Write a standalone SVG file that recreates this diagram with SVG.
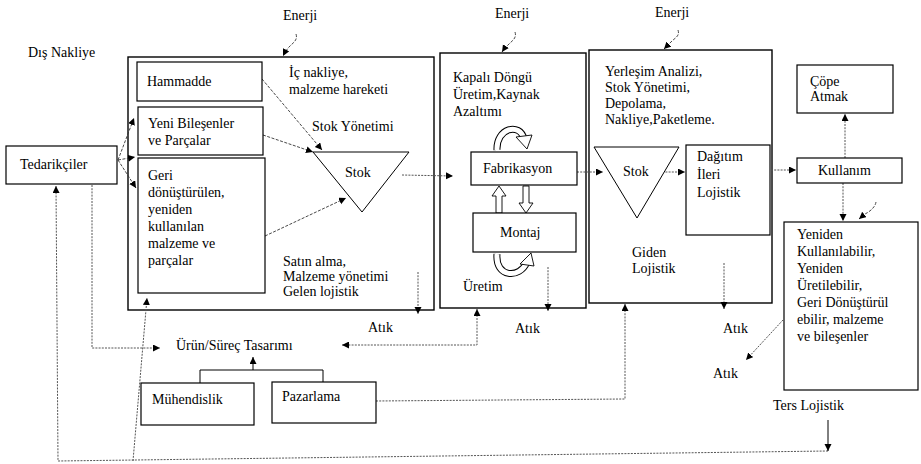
<svg xmlns="http://www.w3.org/2000/svg" width="921" height="464" viewBox="0 0 921 464" font-family="'Liberation Serif', 'DejaVu Serif', serif">
<defs>
<style>
text{font-family:'Liberation Serif','DejaVu Serif','Times New Roman',serif;font-size:14px;fill:#000}
.box{fill:#fff;stroke:#000;stroke-width:1.4}
.ibox{fill:#fff;stroke:#000;stroke-width:1.2}
.tri{fill:#fff;stroke:#000;stroke-width:1}
.sol{fill:none;stroke:#000;stroke-width:1}
.dot{fill:none;stroke:#555;stroke-width:1;stroke-dasharray:2 1.2}
.dash{fill:none;stroke:#333;stroke-width:0.9;stroke-dasharray:3 1.5}
.hol{fill:#fff;stroke:#000;stroke-width:0.9}
</style>
<marker id="ah" markerUnits="userSpaceOnUse" markerWidth="9" markerHeight="8" refX="7" refY="3.5" orient="auto">
<path d="M0,0 L7,3.5 L0,7 Z" fill="#000"/>
</marker>
<marker id="as" markerUnits="userSpaceOnUse" markerWidth="9" markerHeight="8" refX="0" refY="3.5" orient="auto">
<path d="M7,0 L0,3.5 L7,7 Z" fill="#000"/>
</marker>
</defs>
<rect width="921" height="464" fill="#fff"/>

<g id="main-boxes">
<rect id="inbound" class="box" x="128" y="57" width="306" height="253"/>
<rect id="production" class="box" x="440" y="53" width="146" height="255"/>
<rect id="outbound" class="box" x="589" y="50" width="183" height="253"/>
</g>

<g id="connectors">
<path class="dash" d="M296,34 c2,6 -3,9 -6,12 c-3,3 -5,6 -7,10" marker-end="url(#ah)"/>
<path class="dash" d="M515,32 c2,6 -3,9 -6,12 c-3,3 -5,5 -7,8" marker-end="url(#ah)"/>
<path class="dash" d="M678,30 c2,6 -3,8 -6,11 c-3,3 -5,5 -8,8" marker-end="url(#ah)"/>
<path class="dash" d="M876,202 c-1,6 -7,10 -11,12 l-6,5" marker-end="url(#ah)"/>
<path class="dash" d="M118,160 L134,118" marker-end="url(#ah)"/>
<path class="dash" d="M118,160 L135,157" marker-end="url(#ah)"/>
<path class="dash" d="M118,160 L136,188" marker-end="url(#ah)"/>
<path class="dash" d="M262,79 L322,150" marker-end="url(#ah)"/>
<path class="dash" d="M263,135 L313,152" marker-end="url(#ah)"/>
<path class="dash" d="M265,236 L346,198" marker-end="url(#ah)"/>
<path class="dot" d="M402,175 L453,176" marker-end="url(#ah)"/>
<path class="dot" d="M577,172 L603,172" marker-end="url(#ah)"/>
<path class="dot" d="M659,172 L685,172" marker-end="url(#ah)"/>
<path class="dot" d="M771,170 L796,170" marker-end="url(#ah)"/>
<path class="dot" d="M845,158 L845,114" marker-end="url(#ah)"/>
<path class="dot" d="M843,183 L843,221" marker-end="url(#ah)"/>
<path class="dot" d="M783,320 L746,360" marker-end="url(#ah)"/>
<path class="dot" d="M418,272 L418,314" marker-end="url(#ah)"/>
<path class="dot" d="M548,267 L548,311" marker-end="url(#ah)"/>
<path class="dot" d="M724,263 L724,309" marker-end="url(#ah)"/>
<path class="dot" d="M342,345 L477,345 L477,309" marker-start="url(#as)" marker-end="url(#ah)"/>
<path class="dot" d="M92,185 L92,348 L160,348" marker-end="url(#ah)"/>
<path class="dot" d="M376,401 L625,399 L625,304" marker-end="url(#ah)"/>
<path class="dot" d="M828,451 L58,461 L56,186" marker-end="url(#ah)"/>
<path class="dot" d="M133,461 L147,298" marker-end="url(#ah)"/>
<path class="sol" d="M828,420 L828,451" marker-end="url(#ah)"/>
<path class="sol" d="M200,383 L200,370 L323,370 L323,382"/>
<path class="sol" d="M253,370 L253,357" marker-end="url(#ah)"/>
</g>

<g id="cycle-arrows">
<path d="M497,150 C496,128 520,122 524,139" fill="none" stroke="#000" stroke-width="7"/>
<path d="M497,150 C496,128 520,122 524,139" fill="none" stroke="#fff" stroke-width="5"/>
<polygon class="hol" points="516,137 532,135 527,149"/>
<path d="M497,254 C495,278 520,279 527,262" fill="none" stroke="#000" stroke-width="7"/>
<path d="M497,254 C495,278 520,279 527,262" fill="none" stroke="#fff" stroke-width="5"/>
<polygon class="hol" points="520,264 534,266 531,253"/>
<polygon class="hol" points="496,213 496,196 492,196 499,186 506,196 502,196 502,213"/>
<polygon class="hol" points="523,186 523,203 519,203 526,213 533,203 529,203 529,186"/>
</g>

<g id="tedarikciler"><rect class="ibox" x="6" y="146" width="111" height="38"/><text x="20" y="169">Tedarikçiler</text></g>
<g id="hammadde"><rect class="ibox" x="137" y="62" width="125" height="39"/><text x="147" y="86">Hammadde</text></g>
<g id="yeni-bilesenler"><rect class="ibox" x="138" y="107" width="125" height="48"/><text x="148" y="128">Yeni Bileşenler</text><text x="148" y="145">ve Parçalar</text></g>
<g id="geri-donusturulen"><rect class="ibox" x="138" y="158" width="127" height="135"/>
<text x="148" y="180">Geri</text><text x="148" y="197">dönüştürülen,</text><text x="148" y="214">yeniden</text><text x="148" y="231">kullanılan</text><text x="148" y="248">malzeme ve</text><text x="148" y="265">parçalar</text></g>
<g id="stok-1"><polygon class="tri" points="313,152 409,152 362,212"/><text x="345" y="177">Stok</text></g>
<g id="fabrikasyon"><rect class="ibox" x="471" y="152" width="106" height="33"/><text x="483" y="173">Fabrikasyon</text></g>
<g id="montaj"><rect class="ibox" x="473" y="213" width="103" height="39"/><text x="500" y="237">Montaj</text></g>
<g id="stok-2"><polygon class="tri" points="594,147 679,147 637,218"/><text x="623" y="176">Stok</text></g>
<g id="dagitim"><rect class="ibox" x="686" y="145" width="84" height="90"/><text x="697" y="161">Dağıtım</text><text x="697" y="179">İleri</text><text x="697" y="197">Lojistik</text></g>
<g id="kullanim"><rect class="ibox" x="797" y="158" width="105" height="25"/><text x="818" y="175">Kullanım</text></g>
<g id="cope-atmak"><rect class="ibox" x="797" y="65" width="96" height="48"/><text x="810" y="86">Çöpe</text><text x="810" y="101">Atmak</text></g>
<g id="yeniden"><rect class="ibox" x="784" y="222" width="134" height="168"/>
<text x="797" y="239">Yeniden</text><text x="797" y="256">Kullanılabilir,</text><text x="797" y="273">Yeniden</text><text x="797" y="290">Üretilebilir,</text><text x="797" y="307">Geri Dönüştürül</text><text x="797" y="324">ebilir, malzeme</text><text x="797" y="341">ve bileşenler</text></g>
<g id="muhendislik"><rect class="ibox" x="141" y="383" width="113" height="42"/><text x="152" y="404">Mühendislik</text></g>
<g id="pazarlama"><rect class="ibox" x="272" y="382" width="104" height="41"/><text x="282" y="401">Pazarlama</text></g>

<g id="labels">
<text x="28" y="57">Dış Nakliye</text>
<text x="283" y="20">Enerji</text>
<text x="495" y="18">Enerji</text>
<text x="655" y="17">Enerji</text>
<text x="289" y="77">İç nakliye,</text>
<text x="289" y="94">malzeme hareketi</text>
<text x="312" y="131">Stok Yönetimi</text>
<text x="283" y="266">Satın alma,</text>
<text x="283" y="281">Malzeme yönetimi</text>
<text x="283" y="296">Gelen lojistik</text>
<text x="453" y="82">Kapalı Döngü</text>
<text x="453" y="99">Üretim,Kaynak</text>
<text x="453" y="116">Azaltımı</text>
<text x="463" y="291">Üretim</text>
<text x="605" y="76">Yerleşim Analizi,</text>
<text x="605" y="92">Stok Yönetimi,</text>
<text x="605" y="108">Depolama,</text>
<text x="605" y="124">Nakliye,Paketleme.</text>
<text x="632" y="257">Giden</text>
<text x="632" y="273">Lojistik</text>
<text x="368" y="332">Atık</text>
<text x="515" y="333">Atık</text>
<text x="723" y="333">Atık</text>
<text x="713" y="378">Atık</text>
<text x="176" y="350">Ürün/Süreç Tasarımı</text>
<text x="773" y="410">Ters Lojistik</text>
</g>
</svg>
